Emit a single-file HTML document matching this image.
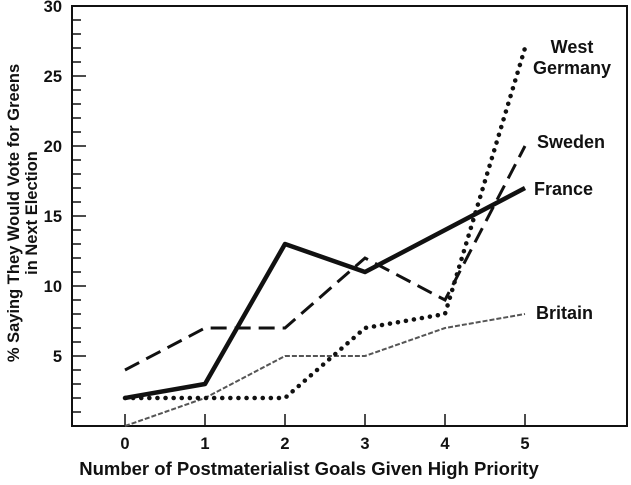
<!DOCTYPE html>
<html><head><meta charset="utf-8"><style>
body{margin:0;background:#fff}
svg text{font-family:"Liberation Sans",Arial,sans-serif;font-weight:bold;fill:#111}
</style></head><body>
<svg id="c" width="631" height="480" viewBox="0 0 631 480">
<rect x="72" y="6" width="555" height="420" fill="none" stroke="#111" stroke-width="2"/>
<g id="ticks"></g>
<text transform="translate(19,213) rotate(-90)" text-anchor="middle" font-size="16.5">% Saying They Would Vote for Greens</text>
<text transform="translate(37,213) rotate(-90)" text-anchor="middle" font-size="16.5">in Next Election</text>
<text x="309" y="475" text-anchor="middle" font-size="18.5">Number of Postmaterialist Goals Given High Priority</text>
<g id="series"></g>
<text x="572" y="53" text-anchor="middle" font-size="18">West</text>
<text x="572" y="74" text-anchor="middle" font-size="18">Germany</text>
<text x="537" y="148" font-size="18">Sweden</text>
<text x="534" y="195" font-size="18">France</text>
<text x="536" y="319" font-size="18">Britain</text>
</svg>
<script>
const categories=[0,1,2,3,4,5];
const yTicks=[5,10,15,20,25,30];
const france=[2,3,13,11,14,17];
const westGermany=[2,2,2,7,8,27];
const sweden=[4,7,7,12,9,20];
const britain=[0,2,5,5,7,8];
const NS="http://www.w3.org/2000/svg";
function xs(v){return 125+v*80;}
function ys(v){return 426-v*14;}
const t=document.getElementById('ticks');
function mk(tag,attrs,parent){const e=document.createElementNS(NS,tag);for(const k in attrs)e.setAttribute(k,attrs[k]);parent.appendChild(e);return e;}
for(let v=1;v<30;v++){
  const major=v%5===0;
  const l=mk('line',{x1:72,x2:72+(major?14:9),y1:ys(v),y2:ys(v),stroke:'#111','stroke-width':1.5},t);
  
  
}
yTicks.forEach(v=>{
  const tx=mk('text',{x:62,y:ys(v)+6,'text-anchor':'end','font-size':16.5},t);
  tx.textContent=v;
  
  
});
categories.forEach(c=>{
  const l=mk('line',{x1:xs(c),x2:xs(c),y1:426,y2:414,stroke:'#111','stroke-width':1.5},t);
  
  
  const tx=mk('text',{x:xs(c),y:449,'text-anchor':'middle','font-size':16.5},t);
  tx.textContent=c;
  
  
});
const s=document.getElementById('series');
function pts(arr){return arr.map((v,i)=>xs(categories[i])+','+ys(v)).join(' ');}
const b=mk('polyline',{points:pts(britain),fill:'none',stroke:'#555','stroke-width':2,'stroke-dasharray':'5 2'},s);


const sw=mk('polyline',{points:pts(sweden),fill:'none',stroke:'#111','stroke-width':3,'stroke-dasharray':'16 8'},s);


const wg=mk('polyline',{points:pts(westGermany),fill:'none',stroke:'#111','stroke-width':4.5,'stroke-dasharray':'0.1 8','stroke-linecap':'round'},s);


const fr=mk('polyline',{points:pts(france),fill:'none',stroke:'#111','stroke-width':4.5,'stroke-linejoin':'round'},s);


</script>
</body></html>
